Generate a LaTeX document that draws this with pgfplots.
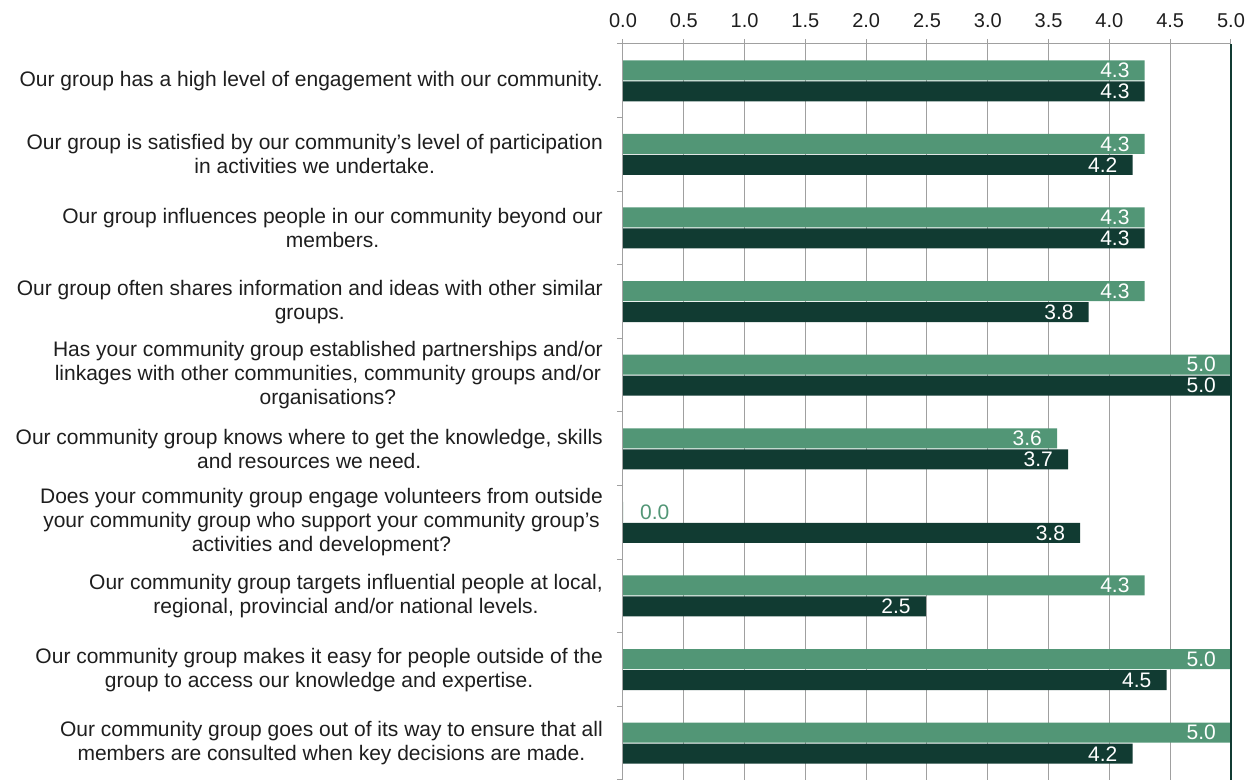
\documentclass[border=0pt]{standalone}
\usepackage{fontspec}
\setmainfont{Liberation Sans}
\usepackage{pgfplots}
\pgfplotsset{compat=1.18}
\definecolor{lg}{RGB}{82,150,118}
\definecolor{dg}{RGB}{17,59,50}
\definecolor{gridg}{RGB}{160,160,160}
\definecolor{txt}{RGB}{30,30,30}
\begin{document}
\begin{tikzpicture}[font=\fontsize{21}{24}\selectfont]
\begin{axis}[
  scale only axis, width=608pt, height=736pt,
  xmin=0, xmax=5, ymin=-0.5, ymax=9.5,
  xbar, bar width=20pt,
  axis line style={draw=none},
  xtick={0,0.5,1,1.5,2,2.5,3,3.5,4,4.5,5},
  xtick pos=upper, xticklabel pos=upper,
  xticklabel style={text=txt, font=\fontsize{20}{24}\selectfont, yshift=8pt,/pgf/number format/fixed,/pgf/number format/fixed zerofill,/pgf/number format/precision=1,/pgf/number format/assume math mode=true},
  xmajorgrids, major x grid style={gridg, line width=1pt},
  x tick style={gridg, line width=1pt},
  tick align=outside, major tick length=5pt, minor tick length=6pt,
  ytick={0,...,9},
  y tick style={draw=none},
  minor ytick={-0.5,0.5,...,9.5},
  minor y tick style={draw=gridg, line width=1pt},
  ytick pos=left,
  yticklabel style={align=center, text=txt, inner sep=0pt, xshift=-15pt},
  yticklabels={
    {Our community group goes out of its way to ensure that all\\members are consulted when key decisions are made.},
    {Our community group makes it easy for people outside of the\\group to access our knowledge and expertise.},
    {Our community group targets influential people at local,\\regional, provincial and/or national levels.},
    {Does your community group engage volunteers from outside\\your community group who support your community group’s\\activities and development?},
    {Our community group knows where to get the knowledge, skills\\and resources we need.},
    {Has your community group established partnerships and/or\\linkages with other communities, community groups and/or\\organisations?},
    {Our group often shares information and ideas with other similar\\groups.},
    {Our group influences people in our community beyond our\\members.},
    {Our group is satisfied by our community’s level of participation\\in activities we undertake.},
    {Our group has a high level of engagement with our community.}
  },
  clip=false,
]
\addplot[fill=lg, draw=none, bar shift=10.5pt, point meta=x,
  nodes near coords={\pgfmathprintnumber[fixed,fixed zerofill,precision=1,assume math mode=true]{\pgfplotspointmeta}},
  every node near coord/.append style={anchor=east, text=white, inner sep=0pt, xshift=-15pt}]
  coordinates {(5.0,0) (5.0,1) (4.29,2) (3.57,4) (5.0,5) (4.29,6) (4.29,7) (4.29,8) (4.29,9)};
\addplot[fill=lg, draw=none, bar shift=10.5pt, point meta=x,
  nodes near coords={\pgfmathprintnumber[fixed,fixed zerofill,precision=1,assume math mode=true]{\pgfplotspointmeta}},
  every node near coord/.append style={anchor=west, text=lg, inner sep=0pt, xshift=17pt}]
  coordinates {(0,3)};
\addplot[fill=dg, draw=none, bar shift=-10.5pt, point meta=x,
  nodes near coords={\pgfmathprintnumber[fixed,fixed zerofill,precision=1,assume math mode=true]{\pgfplotspointmeta}},
  every node near coord/.append style={anchor=east, text=white, inner sep=0pt, xshift=-15pt}]
  coordinates {(4.19,0) (4.47,1) (2.49,2) (3.76,3) (3.66,4) (5.0,5) (3.83,6) (4.29,7) (4.19,8) (4.29,9)};
\draw[gridg, line width=1pt] (rel axis cs:0,0) -- (rel axis cs:0,1) -- (rel axis cs:1,1);
\draw[dg, line width=1.5pt] (rel axis cs:1,1) -- (rel axis cs:1,0);
\coordinate (bl) at (rel axis cs:0,0);
\coordinate (tr) at (rel axis cs:1,1);
\end{axis}
\pgfresetboundingbox
\path ([xshift=-623pt]bl) rectangle ([xshift=26pt,yshift=44pt]tr);
\end{tikzpicture}
\end{document}
